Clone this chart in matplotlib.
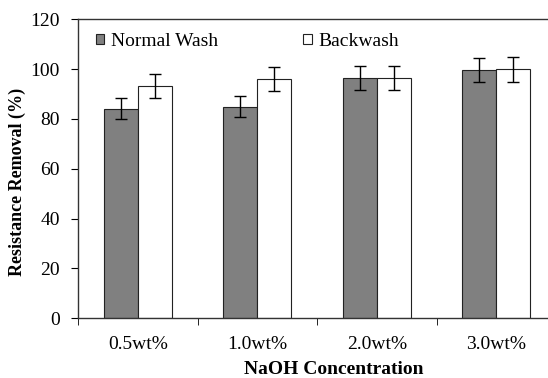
import matplotlib
matplotlib.use("Agg")
import matplotlib.pyplot as plt
import numpy as np
from matplotlib.patches import Patch

categories = ["0.5wt%", "1.0wt%", "2.0wt%", "3.0wt%"]
normal_wash = [84.2, 84.9, 96.5, 99.6]
normal_err = [4.1, 4.3, 4.7, 4.9]
backwash = [93.2, 96.1, 96.5, 100.0]
back_err = [4.7, 4.9, 4.7, 5.0]
yticks = [0, 20, 40, 60, 80, 100, 120]

plt.rcParams['font.family'] = ['Liberation Serif', 'DejaVu Serif']

fig = plt.figure(figsize=(5.48, 3.78), dpi=100)
ax = fig.add_axes([78/548, 1-318.3/378, 478/548, 299/378])

x = np.arange(len(categories))
w = 0.285
ax.bar(x - w/2, normal_wash, w, color='#808080', edgecolor='#222222', linewidth=0.8,
       yerr=normal_err, error_kw=dict(ecolor='black', elinewidth=1.0, capsize=4, capthick=1.0),
       zorder=2)
ax.bar(x + w/2, backwash, w, color='white', edgecolor='#222222', linewidth=0.8,
       yerr=back_err, error_kw=dict(ecolor='black', elinewidth=1.0, capsize=4, capthick=1.0),
       zorder=2)

ax.set_xlim(-0.5, len(categories) - 0.5)
ax.set_ylim(0, 120)
ax.set_yticks(yticks)
ax.set_yticklabels([str(v) for v in yticks], fontsize=14)
ax.set_xticks(x)
ax.set_xticklabels(categories, fontsize=14)
ax.tick_params(axis='x', length=0, pad=13)
ax.set_xticks(np.arange(len(categories) + 1) - 0.5, minor=True)
ax.tick_params(axis='x', which='minor', length=5, direction='out', color='black')
ax.tick_params(axis='y', length=5, direction='out', pad=8)

for s in ['left', 'bottom', 'top']:
    ax.spines[s].set_color('#333333')
    ax.spines[s].set_linewidth(1.0)
ax.spines['right'].set_visible(False)

ax.set_xlabel("NaOH Concentration", fontsize=14, fontweight='bold')
ax.xaxis.set_label_coords(0.534, -0.143)
ax.set_ylabel("Resistance Removal (%)", fontsize=13, fontweight='bold')
ax.yaxis.set_label_coords(-0.108, 0.455)

handles = [Patch(facecolor='#808080', edgecolor='#222222', linewidth=0.8),
           Patch(facecolor='white', edgecolor='#222222', linewidth=0.8)]
ax.legend(handles, ["Normal Wash", "Backwash"], ncol=2, loc='upper left',
          bbox_to_anchor=(0.037, 0.955), frameon=False, fontsize=14,
          handlelength=0.42, handleheight=0.42, handletextpad=0.35,
          columnspacing=4.4, borderpad=0, borderaxespad=0)

fig.savefig("out.png", dpi=100)
